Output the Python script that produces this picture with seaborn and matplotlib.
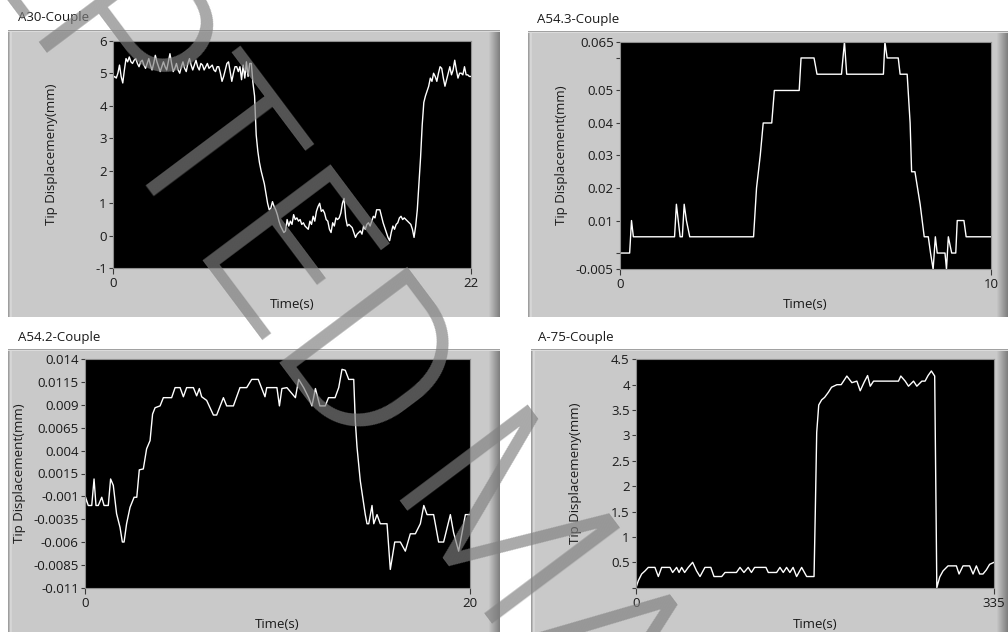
import numpy as np
import matplotlib
matplotlib.use("Agg")
import matplotlib.pyplot as plt
from matplotlib.patches import Rectangle
from matplotlib.font_manager import FontProperties
from matplotlib.textpath import text_to_path
import seaborn as sns

sns.set_theme(style="white")
plt.rcParams["font.family"] = ["Open Sans", "DejaVu Sans"]

W, H, DPI = 1008, 632, 100

# ---------------- data ----------------
# A30-Couple, one sample every 0.1 s over 0..22 s
a30_disp = [
    4.85, 4.9, 4.85, 5.0, 5.25, 4.9, 4.7, 5.1, 5.45, 5.35,
    5.5, 5.35, 5.3, 5.4, 5.45, 5.3, 5.2, 5.35, 5.4, 5.25,
    5.15, 5.3, 5.45, 5.25, 5.1, 5.3, 5.55, 5.35, 5.2, 5.05,
    5.2, 5.35, 5.2, 5.1, 5.35, 5.6, 5.3, 5.05, 5.15, 5.3,
    5.1, 5.0, 5.2, 5.35, 5.15, 5.05, 5.3, 5.45, 5.25, 5.1,
    5.25, 5.4, 5.2, 5.1, 5.3, 5.25, 5.1, 5.2, 5.3, 5.15,
    5.2, 5.25, 5.1, 5.05, 5.2, 5.2, 5.0, 4.75, 4.9, 5.1,
    5.3, 5.35, 5.05, 4.75, 5.0, 5.2, 5.2, 5.05, 5.2, 4.8,
    5.25, 4.85, 5.35, 4.9, 5.3, 5.3, 4.7, 4.3, 3.1, 2.6,
    2.25, 2.0, 1.8, 1.6, 1.3, 1.0, 0.8, 0.85, 1.05, 0.9,
    0.8, 0.65, 0.45, 0.3, 0.2, 0.1, 0.15, 0.5, 0.3, 0.45,
    0.35, 0.65, 0.5, 0.55, 0.45, 0.5, 0.35, 0.4, 0.3, 0.25,
    0.2, 0.45, 0.35, 0.6, 0.45, 0.75, 0.9, 1.0, 0.75, 0.8,
    0.7, 0.5, 0.45, 0.2, 0.1, 0.4, 0.3, 0.55, 0.5, 0.55,
    0.7, 1.0, 1.15, 0.55, 0.3, 0.35, 0.3, 0.25, 0.1, -0.05,
    0.05, 0.1, 0.15, 0.05, 0.3, 0.2, 0.35, 0.4, 0.3, 0.45,
    0.6, 0.55, 0.8, 0.8, 0.8, 0.6, 0.4, 0.25, 0.1, -0.05,
    -0.15, 0.1, 0.3, 0.2, 0.35, 0.4, 0.55, 0.6, 0.5, 0.55,
    0.5, 0.45, 0.4, 0.35, 0.2, -0.05, 0.3, 0.8, 1.6, 2.4,
    3.4, 4.1, 4.3, 4.45, 4.6, 4.85, 4.75, 5.0, 4.9, 4.75,
    5.0, 5.2, 5.15, 4.85, 4.6, 4.8, 5.0, 5.2, 4.95, 5.1,
    5.4, 5.1, 4.85, 5.0, 5.0, 4.95, 5.2, 4.95, 4.95, 4.9,
    4.9,
]
a30_time = np.linspace(0, 22, len(a30_disp))

# A54.3-Couple
a543_time = [0, 0.26, 0.31, 0.36, 1.47, 1.52, 1.62, 1.68, 1.73, 1.79,
             1.88, 3.6, 3.68, 3.78, 3.86, 4.09, 4.16, 4.83, 4.88, 5.23,
             5.31, 5.97, 6.05, 6.11, 7.1, 7.14, 7.2, 7.5, 7.55, 7.74,
             7.82, 7.86, 7.95, 8.09, 8.2, 8.31, 8.37, 8.44, 8.5, 8.55,
             8.76, 8.8, 8.85, 8.94, 9.05, 9.09, 9.27, 9.33, 10]
a543_disp = [0, 0, 0.01, 0.005, 0.005, 0.015, 0.005, 0.005, 0.015, 0.01,
             0.005, 0.005, 0.02, 0.03, 0.04, 0.04, 0.05, 0.05, 0.06, 0.06,
             0.055, 0.055, 0.065, 0.055, 0.055, 0.065, 0.06, 0.06, 0.055, 0.055,
             0.04, 0.025, 0.025, 0.015, 0.005, 0.005, 0.0, -0.005, 0.005, 0.0,
             0.0, -0.005, 0.005, 0.0, 0.0, 0.01, 0.01, 0.005, 0.005]

# A54.2-Couple
a542_time = [0, 0.03, 0.17, 0.35, 0.47, 0.57, 0.69, 0.87, 0.99, 1.21,
             1.33, 1.47, 1.64, 1.82, 1.94, 2.03, 2.16, 2.34, 2.55, 2.69,
             2.82, 3.03, 3.2, 3.38, 3.51, 3.64, 3.9, 4.07, 4.5, 4.68,
             4.94, 5.11, 5.28, 5.63, 5.8, 5.94, 6.06, 6.32, 6.67, 6.84,
             7.19, 7.36, 7.71, 8.05, 8.4, 8.66, 9.0, 9.35, 9.44, 9.97,
             10.1, 10.23, 10.49, 10.93, 11.1, 11.36, 11.62, 11.79, 11.97, 12.2,
             12.48, 12.65, 12.99, 13.18, 13.35, 13.52, 13.7, 13.96, 14.04, 14.13,
             14.3, 14.56, 14.65, 14.74, 14.91, 15.0, 15.17, 15.34, 15.69, 15.86,
             16.09, 16.38, 16.64, 16.9, 17.16, 17.42, 17.6, 17.77, 18.11, 18.37,
             18.63, 18.98, 19.15, 19.41, 19.76, 20.0]
a542_disp = [-0.0033, -0.0011, -0.002, -0.002, 0.0009, -0.002, -0.002, -0.0011, -0.002, -0.002,
             0.0009, 0.0002, -0.0029, -0.0044, -0.006, -0.006, -0.004, -0.0022, -0.0011, -0.0011,
             0.0019, 0.002, 0.0042, 0.0051, 0.008, 0.0087, 0.0089, 0.0098, 0.0098, 0.0109,
             0.0109, 0.0099, 0.0109, 0.0109, 0.0100, 0.0108, 0.0099, 0.0095, 0.0079, 0.0079,
             0.0098, 0.0089, 0.0089, 0.0109, 0.0109, 0.0118, 0.0118, 0.0099, 0.0109, 0.0109,
             0.0089, 0.0108, 0.0109, 0.0098, 0.0118, 0.0109, 0.0098, 0.0089, 0.0108, 0.0089,
             0.0089, 0.0098, 0.0098, 0.0109, 0.0129, 0.0128, 0.0118, 0.0118, 0.0073, 0.0044,
             0.0007, -0.003, -0.004, -0.004, -0.002, -0.004, -0.003, -0.004, -0.004, -0.009,
             -0.006, -0.006, -0.007, -0.0051, -0.0051, -0.004, -0.002, -0.003, -0.003, -0.006,
             -0.006, -0.003, -0.005, -0.007, -0.003, -0.003]

# A-75-Couple
a75_time = [0, 2.2, 5.3, 8.4, 11.5, 17.7, 20.9, 24, 31.8, 34.3,
            38, 40.3, 42.7, 45.5, 48.9, 53, 56.7, 59.9, 64.5, 70,
            73, 80.2, 83.3, 94, 97.3, 101, 105, 108, 111, 121.6,
            123.8, 131.6, 134.7, 137.8, 140.9, 144, 147, 150.3, 155, 159.7,
            164, 166.6, 167.8, 169.1, 171, 173.7, 176.5, 180, 183, 188,
            192, 194.2, 197.3, 202, 206.7, 209.8, 213.5, 216.7, 219.2, 222.3,
            245.6, 247.8, 251.9, 255, 259.7, 262.8, 267.5, 270.5, 273.3, 276.4,
            279.5, 280.5, 281.5, 284.2, 287.3, 292, 299.8, 302.3, 306, 312.2,
            315.4, 318.5, 321.6, 324.7, 327.8, 330.9, 335]
a75_disp = [0.0, 0.14, 0.27, 0.33, 0.4, 0.4, 0.22, 0.4, 0.4, 0.3,
            0.4, 0.3, 0.4, 0.3, 0.4, 0.5, 0.33, 0.22, 0.4, 0.4,
            0.22, 0.22, 0.3, 0.3, 0.4, 0.3, 0.4, 0.3, 0.4, 0.4,
            0.3, 0.3, 0.4, 0.3, 0.4, 0.3, 0.4, 0.22, 0.4, 0.22,
            0.22, 0.22, 1.52, 3.06, 3.6, 3.7, 3.75, 3.85, 3.95, 4.0,
            4.0, 4.07, 4.17, 4.04, 4.07, 3.88, 4.05, 4.18, 3.97, 4.07,
            4.07, 4.17, 4.07, 3.97, 4.07, 3.97, 4.07, 4.07, 4.18, 4.27,
            4.17, 2.1, 0.0, 0.21, 0.33, 0.43, 0.43, 0.27, 0.43, 0.43,
            0.27, 0.43, 0.27, 0.27, 0.35, 0.46, 0.5]

titles = ["A30-Couple", "A54.3-Couple", "A54.2-Couple", "A-75-Couple"]
ylabels = ["Tip Displacemeny(mm)", "Tip Displacement(mm)",
           "Tip Displacement(mm)", "Tip Displacemeny(mm)"]
xlabel = "Time(s)"

a30_yticks = [-1, 0, 1, 2, 3, 4, 5, 6]
a30_ylabels = ["-1", "0", "1", "2", "3", "4", "5", "6"]
a543_yticks = [-0.005, 0.0, 0.01, 0.02, 0.03, 0.04, 0.05, 0.06, 0.065]
a543_ylabels = ["-0.005", "", "0.01", "0.02", "0.03", "0.04", "0.05", "", "0.065"]
a542_yticks = [-0.011, -0.0085, -0.006, -0.0035, -0.001, 0.0015, 0.004,
               0.0065, 0.009, 0.0115, 0.014]
a542_ylabels = ["-0.011", "-0.0085", "-0.006", "-0.0035", "-0.001", "0.0015",
                "0.004", "0.0065", "0.009", "0.0115", "0.014"]
a75_yticks = [0, 0.5, 1, 1.5, 2, 2.5, 3, 3.5, 4, 4.5]
a75_ylabels = ["", "0.5", "1", "1.5", "2", "2.5", "3", "3.5", "4", "4.5"]
x_ends = [22, 10, 20, 335]

watermark = "ACCEPTED MANUSCRIPT"

# ---------------- layout (pixels, y from top) ----------------
frames = [(8, 30, 500, 317), (528, 31, 1008, 317),
          (8, 349, 500, 632), (531, 349, 1008, 632)]
plots = [(113, 40.7, 471, 268.3), (620, 41.7, 991, 269.3),
         (85, 359.3, 470, 587.7), (636, 359.3, 994, 587.7)]
title_pos = [(18, 18), (537, 19), (18, 338), (538, 338)]
ylabel_x = [52, 562, 20, 576]
xlabel_y = [304, 305, 624, 624]

fig = plt.figure(figsize=(W / DPI, H / DPI), dpi=DPI)
fig.patch.set_facecolor("white")


def frac_rect(x0, y0, x1, y1):
    return (x0 / W, 1 - y1 / H, (x1 - x0) / W, (y1 - y0) / H)


def add_px_rect(x0, y0, x1, y1, color, z):
    l, b, w, h = frac_rect(x0, y0, x1, y1)
    fig.add_artist(Rectangle((l, b), w, h, transform=fig.transFigure,
                             facecolor=color, edgecolor="none", zorder=z))


def draw_frame(x0, y0, x1, y1):
    add_px_rect(x0, y0, x1, y1, "#c9c9c9", -3)
    # right bevel: strips darkening toward the edge
    for i, s in enumerate(np.linspace(0.79, 0.50, 12)):
        xs = x1 - 12 + i
        add_px_rect(xs, y0, xs + 1, y1, (s, s, s), -2)
    # left bevel
    for xs, s in [(x0, 0.62), (x0 + 1, 0.72), (x0 + 2, 0.84), (x0 + 3, 0.83)]:
        add_px_rect(xs, y0, xs + 1, y1, (s, s, s), -2)
    # top bevel
    for ys, s in [(y0, 0.63), (y0 + 1, 0.86)]:
        add_px_rect(x0, ys, x1, ys + 1, (s, s, s), -2)


series = [(a30_time, a30_disp), (a543_time, a543_disp),
          (a542_time, a542_disp), (a75_time, a75_disp)]
yticks = [(a30_yticks, a30_ylabels), (a543_yticks, a543_ylabels),
          (a542_yticks, a542_ylabels), (a75_yticks, a75_ylabels)]

FS = 9.5
for i in range(4):
    draw_frame(*frames[i])
    x0, y0, x1, y1 = plots[i]
    ax = fig.add_axes(frac_rect(x0, y0, x1, y1))
    ax.set_facecolor("black")
    t, v = series[i]
    sns.lineplot(x=np.asarray(t, dtype=float), y=np.asarray(v, dtype=float),
                 ax=ax, color="white", linewidth=1.0, estimator=None, sort=False)
    ticks, labels = yticks[i]
    ax.set_xlim(0, x_ends[i])
    ax.set_ylim(ticks[0], ticks[-1])
    ax.set_yticks(ticks)
    ax.set_yticklabels(labels)
    ax.set_xticks([0, x_ends[i]])
    ax.set_xticklabels(["0", str(x_ends[i])])
    for s in ax.spines.values():
        s.set_color("#8f8f8f")
        s.set_linewidth(0.8)
    ax.tick_params(axis="y", left=True, length=3, width=0.8, color="#3a3a3a",
                   pad=1.5, labelsize=FS, labelcolor="#1a1a1a")
    ax.tick_params(axis="x", bottom=True, length=4.5, width=0.8, color="#3a3a3a",
                   pad=2.0, labelsize=FS, labelcolor="#1a1a1a")
    ax.grid(False)

    ax.set_xlabel(xlabel, fontsize=FS, color="#1a1a1a")
    ax.set_ylabel(ylabels[i], fontsize=FS, color="#1a1a1a")
    pw, ph = x1 - x0, y1 - y0
    ax.xaxis.label.set_va("center")
    ax.xaxis.set_label_coords(0.5, (y1 - xlabel_y[i]) / ph)
    ax.yaxis.label.set_va("center")
    ax.yaxis.set_label_coords((ylabel_x[i] - x0) / pw, 0.5)

    tx, ty = title_pos[i]
    fig.text(tx / W, 1 - ty / H, titles[i], fontsize=FS, color="#1a1a1a",
             ha="left", va="center")

# diagonal manuscript stamp across the sheet, light-weight sans face
wm_size = 162.0                                  # points
wm_font = FontProperties(family=["Roboto", "Liberation Sans", "DejaVu Sans"],
                         weight=300, size=wm_size)
word1, word2 = watermark.split(" ")
w_head, _, _ = text_to_path.get_text_width_height_descent("ACCEPT", wm_font, False)
w_t, _, _ = text_to_path.get_text_width_height_descent("T", wm_font, False)
t_center = (w_head - 0.5 * w_t) * DPI / 72.0     # word start to the T's stem
word_gap = 384.0                                 # T's stem to the second word
dx, dy = 0.6, 0.8                                # baseline direction (image axes)
anchor_x, anchor_y = 148.0, 193.0                # foot of the T's stem
for word, dist in [(word1, -t_center), (word2, word_gap)]:
    px = anchor_x + dx * dist
    py = anchor_y + dy * dist
    fig.text(px / W, 1 - py / H, word, fontproperties=wm_font,
             color="#7f7f7f", alpha=0.67,
             rotation=-53.13, rotation_mode="anchor", ha="left", va="baseline",
             zorder=10)

fig.savefig("out.png", dpi=DPI, facecolor="white")
